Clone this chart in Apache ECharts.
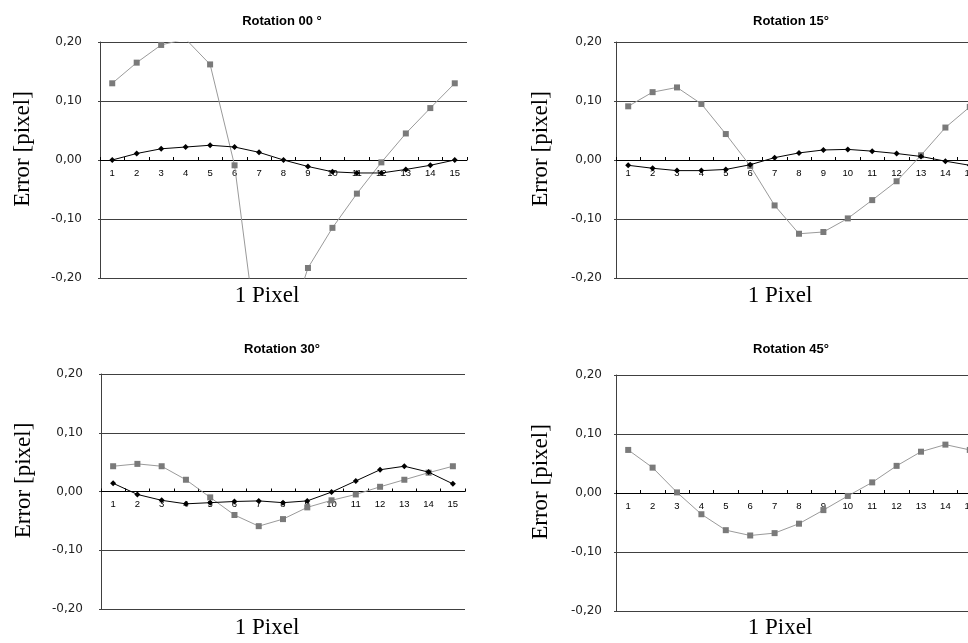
<!DOCTYPE html>
<html>
<head>
<meta charset="utf-8">
<title>Rotation error</title>
<script src="https://cdn.jsdelivr.net/npm/echarts@6/dist/echarts.min.js"></script>
<style>
  html, body { margin: 0; padding: 0; background: #fff; overflow: hidden; }
  /* right-hand panels run past the picture edge, as in the original scan */
  #chart { width: 990px; height: 643px; }
</style>
</head>
<body>
<div id="chart"></div>
<script>
// x categories (pixel positions 1..15)
const categories = ["1", "2", "3", "4", "5", "6", "7", "8", "9", "10", "11", "12", "13", "14", "15"];
const panelTitles = ["Rotation 00 °", "Rotation 15°", "Rotation 30°", "Rotation 45°"];
const yTicks = [-0.2, -0.1, 0, 0.1, 0.2];

// gray square series (error per sub-pixel position)
const gray00 = [0.130, 0.165, 0.195, 0.205, 0.162, -0.009, -0.330, -0.310, -0.183, -0.115, -0.057, -0.004, 0.045, 0.088, 0.130];
const gray15 = [0.091, 0.115, 0.123, 0.095, 0.044, -0.010, -0.077, -0.125, -0.122, -0.099, -0.068, -0.036, 0.008, 0.055, 0.090];
const gray30 = [0.043, 0.047, 0.043, 0.020, -0.010, -0.040, -0.059, -0.047, -0.027, -0.015, -0.005, 0.008, 0.020, 0.032, 0.043];
const gray45 = [0.073, 0.043, 0.001, -0.036, -0.063, -0.072, -0.068, -0.052, -0.029, -0.005, 0.018, 0.046, 0.070, 0.082, 0.073];

// black diamond series
const black00 = [0.000, 0.011, 0.019, 0.022, 0.025, 0.022, 0.013, 0.000, -0.011, -0.020, -0.022, -0.022, -0.016, -0.009, 0.000];
const black15 = [-0.009, -0.014, -0.018, -0.018, -0.016, -0.008, 0.004, 0.012, 0.017, 0.018, 0.015, 0.011, 0.006, -0.002, -0.009];
const black30 = [0.014, -0.005, -0.015, -0.021, -0.019, -0.017, -0.016, -0.019, -0.016, -0.001, 0.018, 0.037, 0.043, 0.033, 0.013];

const panels = [
  { grid: { left: 100, top: 42, width: 367, height: 236 }, gray: gray00, black: black00 },
  { grid: { left: 616, top: 42, width: 366, height: 236 }, gray: gray15, black: black15 },
  { grid: { left: 101, top: 374, width: 364, height: 235 }, gray: gray30, black: black30 },
  { grid: { left: 616, top: 375, width: 366, height: 236 }, gray: gray45, black: null },
];

const chart = echarts.init(document.getElementById("chart"));

const grids = [];
const xAxes = [];
const yAxes = [];
const series = [];
const titles = [];

panels.forEach((p, i) => {
  const g = p.grid;
  grids.push(Object.assign({ containLabel: false, outerBoundsMode: "none" }, g));
  // x axis sits on the 0,00 line (middle of the symmetric y range)
  xAxes.push({
    type: "category",
    gridIndex: i,
    data: categories,
    boundaryGap: true,
    position: "bottom",
    offset: -g.height / 2,
    axisLine: { onZero: false, lineStyle: { color: "#000", width: 1 } },
    axisTick: { show: true, inside: true, length: 3, lineStyle: { color: "#000" } },
    axisLabel: { color: "#000", fontSize: 9.5, fontFamily: "Arial, Liberation Sans", margin: 8 },
    splitLine: { show: false },
  });
  yAxes.push({
    type: "value",
    gridIndex: i,
    min: yTicks[0],
    max: yTicks[yTicks.length - 1],
    interval: 0.1,
    name: "Error [pixel]",
    nameLocation: "middle",
    nameGap: i % 2 === 0 ? 66 : 64,
    nameTextStyle: {
      color: "#000",
      fontSize: 23,
      fontFamily: "Liberation Serif, Times New Roman, serif",
      padding: [0, 0, 0, 22],
    },
    axisLine: { show: true, lineStyle: { color: "#404040", width: 1 } },
    axisTick: { show: true, length: 2, lineStyle: { color: "#404040" } },
    axisLabel: {
      color: "#222",
      fontSize: 12,
      fontFamily: "DejaVu Sans, Arial",
      margin: i % 2 === 0 ? 18 : 14,
      formatter: (v) => v.toFixed(2).replace(".", ",").replace("-0,00", "0,00"),
    },
    splitLine: { show: true, lineStyle: { color: "#404040", width: 1 } },
  });

  series.push({
    type: "line",
    name: "gray",
    xAxisIndex: i,
    yAxisIndex: i,
    data: p.gray,
    clip: true,
    symbol: "rect",
    symbolSize: 6,
    itemStyle: { color: "#7a7a7a" },
    lineStyle: { color: "#9a9a9a", width: 1 },
    z: 3,
  });
  if (p.black) {
    series.push({
      type: "line",
      name: "black",
      xAxisIndex: i,
      yAxisIndex: i,
      data: p.black,
      clip: true,
      symbol: "diamond",
      symbolSize: 6,
      itemStyle: { color: "#000" },
      lineStyle: { color: "#000", width: 1 },
      z: 4,
    });
  }

  titles.push({
    text: panelTitles[i],
    left: i % 2 === 0 ? 277 : 786,
    top: i < 2 ? 10 : 338,
    textAlign: "center",
    textStyle: { color: "#000", fontSize: 13, fontWeight: "bold", fontFamily: "Arial, Liberation Sans" },
  });
  titles.push({
    text: "1 Pixel",
    left: i % 2 === 0 ? 262 : 775,
    top: i < 2 ? 279 : 611,
    textAlign: "center",
    textStyle: { color: "#000", fontSize: 23, fontWeight: "normal", fontFamily: "Liberation Serif, Times New Roman, serif" },
  });
});

chart.setOption({
  backgroundColor: "#fff",
  animation: false,
  title: titles,
  grid: grids,
  xAxis: xAxes,
  yAxis: yAxes,
  series: series,
});
</script>
</body>
</html>
